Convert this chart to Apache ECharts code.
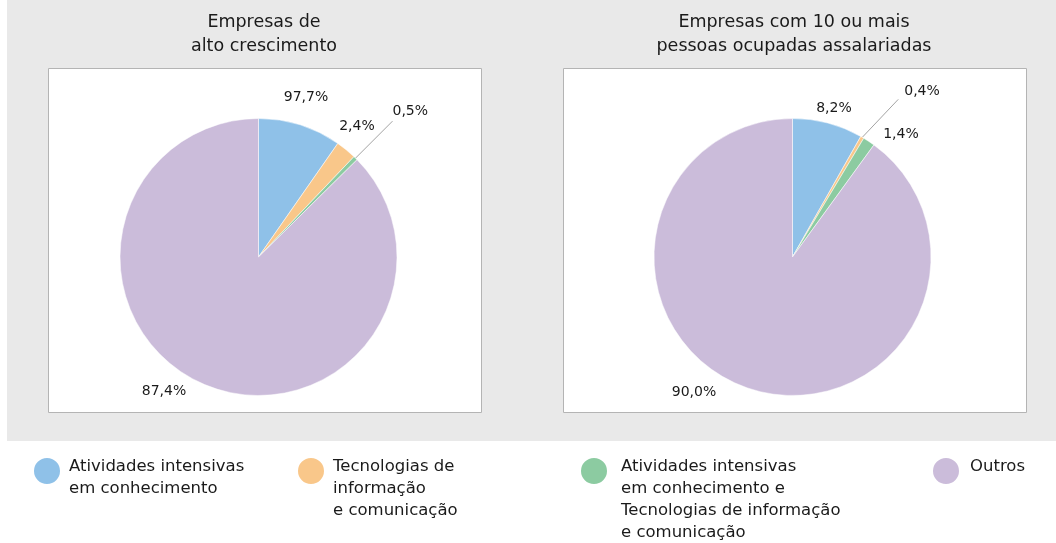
<!DOCTYPE html>
<html style="height: 100%">
<head>
  <meta charset="utf-8">
</head>
<body style="height: 100%; margin: 0">
<div id="container" style="width: 1056px; height: 543px"></div>
<script type="text/javascript" src="https://cdn.jsdelivr.net/npm/echarts@6/dist/echarts.min.js"></script>
<script type="text/javascript">
// categorias (mesma ordem nas duas pizzas)
var categories = [
  'Atividades intensivas em conhecimento',
  'Tecnologias de informação e comunicação',
  'Atividades intensivas em conhecimento e Tecnologias de informação e comunicação',
  'Outros'
];
var legendTexts = [
  ['Atividades intensivas', 'em conhecimento'],
  ['Tecnologias de', 'informação', 'e comunicação'],
  ['Atividades intensivas', 'em conhecimento e', 'Tecnologias de informação', 'e comunicação'],
  ['Outros']
];
var titles = ['Empresas de\nalto crescimento', 'Empresas com 10 ou mais\npessoas ocupadas assalariadas'];

// valores (%)
var altoCrescimento = [9.7, 2.4, 0.5, 87.4];
var altoCrescimentoLabels = ['97,7%', '2,4%', '0,5%', '87,4%'];
var dezOuMais = [8.2, 0.4, 1.4, 90.0];
var dezOuMaisLabels = ['8,2%', '0,4%', '1,4%', '90,0%'];

var colors = ['#8fc1e8', '#f9c78a', '#8ccba1', '#cbbcda'];
var font = 'DejaVu Sans';
var textColor = '#1a1a1a';

// layout
var pieCenters = [[258.5, 257], [792.5, 257]];
var pieRadius = 138.5;
// label offsets from pie centre (null = leader line label)
var labelOffsets = [
  [[47.5, -160], [98.5, -131], null, [-94.5, 134]],
  [[41.5, -149], null, [108.5, -123], [-98.5, 135]]
];
var leaderIndex = [2, 1];
// leader line vector from slice edge, label gap and lift
var leaderVec = [[37, -37], [36, -38]];
var leaderGap = [0, 6];
var leaderLift = [10, 8];

var dom = document.getElementById('container');
var myChart = echarts.init(dom);

function buildData(values, s) {
  return values.map(function (v, i) {
    var item = { name: categories[i], value: v };
    if (i === leaderIndex[s]) {
      item.labelLine = {
        show: true, length: 40, length2: 0, smooth: false,
        lineStyle: { color: '#a3a3a3', width: 1 }
      };
    }
    return item;
  });
}

function makePie(s, values, labels) {
  return {
    type: 'pie',
    name: 'pie' + s,
    center: pieCenters[s],
    radius: pieRadius,
    startAngle: 90,
    clockwise: true,
    avoidLabelOverlap: false,
    animation: false,
    silent: true,
    z: 2,
    itemStyle: { borderColor: '#ffffff', borderWidth: 0.5 },
    label: {
      show: true,
      position: 'outside',
      fontFamily: font,
      fontSize: 14,
      color: textColor,
      formatter: function (p) { return labels[p.dataIndex]; }
    },
    labelLine: { show: false },
    labelLayout: function (p) {
      var off = labelOffsets[s][p.dataIndex];
      if (off) {
        return {
          x: pieCenters[s][0] + off[0],
          y: pieCenters[s][1] + off[1],
          align: 'center',
          verticalAlign: 'middle'
        };
      }
      var pts = p.labelLinePoints;
      if (!pts) return null;
      var p0 = pts[0];
      var p1 = [p0[0] + leaderVec[s][0], p0[1] + leaderVec[s][1]];
      return {
        x: p1[0] + leaderGap[s],
        y: p1[1] - leaderLift[s],
        align: 'left',
        verticalAlign: 'middle',
        labelLinePoints: [p0, p1]
      };
    },
    data: buildData(values, s)
  };
}

// legend placement
var legendLeft = [32, 296, 579, 931];
var legendTextPad = [3, 3, 8, 5];

var legends = categories.map(function (c, i) {
  var lines = legendTexts[i];
  var n = lines.length;
  // spacer lines so the first text line sits next to the circle
  var lead = Math.max(0, 22 * n - 30);
  var trail = n === 1 ? 8 : 0;
  var txt = (lead ? '{e| }\n' : '') +
    lines.map(function (l) { return '{t|' + l + '}'; }).join('\n') +
    (trail ? '\n{f| }' : '');
  var top = 467 - (2 * n - 1) * 11;
  if (n > 1) top += 11 * (n - 1) + 3;
  return {
    data: [c],
    left: legendLeft[i],
    top: top,
    padding: 0,
    icon: 'circle',
    itemWidth: 28,
    itemHeight: 28,
    selectedMode: false,
    formatter: function () { return txt; },
    textStyle: {
      fontFamily: font,
      fontSize: 16.5,
      color: textColor,
      padding: [0, 0, 0, legendTextPad[i]],
      rich: {
        t: { fontFamily: font, fontSize: 16.5, lineHeight: 22, color: textColor },
        e: { fontSize: 2, lineHeight: lead || 1 },
        f: { fontSize: 2, lineHeight: trail || 1 }
      }
    }
  };
});

option = {
  color: colors,
  animation: false,
  graphic: [
    { type: 'rect', z: 0, shape: { x: 7, y: 0, width: 1049, height: 441 }, style: { fill: '#e9e9e9' } },
    { type: 'rect', z: 1, shape: { x: 48.5, y: 68.5, width: 433, height: 344 }, style: { fill: '#ffffff', stroke: '#b4b4b4', lineWidth: 1 } },
    { type: 'rect', z: 1, shape: { x: 563.5, y: 68.5, width: 463, height: 344 }, style: { fill: '#ffffff', stroke: '#b4b4b4', lineWidth: 1 } },
    { type: 'text', z: 1, x: 264, y: 10, style: { text: titles[0], fill: textColor, font: '17.5px "' + font + '"', textAlign: 'center', lineHeight: 24 } },
    { type: 'text', z: 1, x: 794, y: 10, style: { text: titles[1], fill: textColor, font: '17.5px "' + font + '"', textAlign: 'center', lineHeight: 24 } }
  ],
  legend: legends,
  series: [
    makePie(0, altoCrescimento, altoCrescimentoLabels),
    makePie(1, dezOuMais, dezOuMaisLabels)
  ]
};

if (option && typeof option === 'object') {
  myChart.setOption(option, true);
}
</script>
</body>
</html>
